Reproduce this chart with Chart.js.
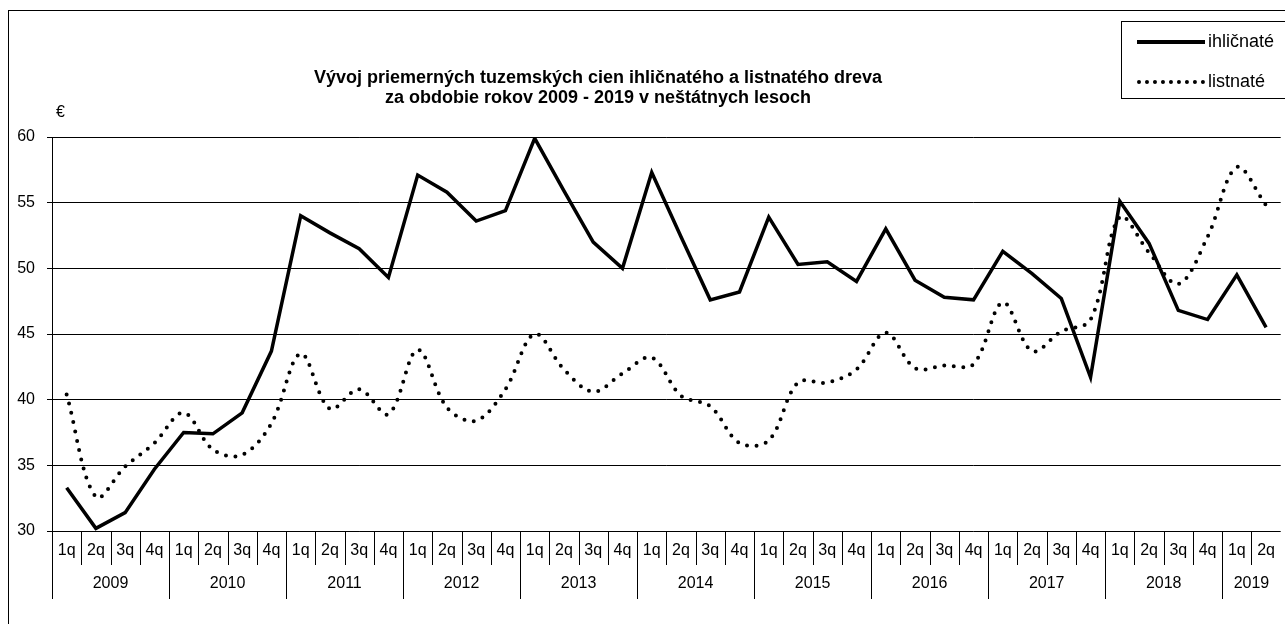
<!DOCTYPE html>
<html>
<head>
<meta charset="utf-8">
<script src="https://cdn.jsdelivr.net/npm/chart.js@4.4.1/dist/chart.umd.min.js"></script>
<style>
  html, body { margin:0; padding:0; background:#fff; }
  #wrap { position:relative; width:1285px; height:624px; overflow:hidden; font-family:"Liberation Sans", Arial, sans-serif; color:#000; }
  #c { position:absolute; left:0; top:0; }
  #frame { position:absolute; left:8px; top:10px; width:1400px; height:700px; border-left:1px solid #000; border-top:1px solid #000; }
  #title { position:absolute; left:198px; width:800px; top:67px; text-align:center; font-weight:bold; font-size:18px; line-height:20px; white-space:nowrap; }
  #euro { position:absolute; left:56px; top:103px; font-size:16px; }
  #legend { position:absolute; left:1121px; top:21px; width:200px; height:76px; border:1px solid #000; background:#fff; }
  .lg { position:absolute; left:15px; height:22px; font-size:18px; line-height:22px; white-space:nowrap; }
  .sw { display:inline-block; width:68px; vertical-align:middle; margin-right:3px; }
  .solid { border-top:4px solid #000; }
  .dot { border-top:4px dotted #000; }
</style>
</head>
<body>
<div id="wrap">
  <canvas id="c" width="1285" height="624"></canvas>
  <div id="frame"></div>
  <div id="title">Vývoj priemerných tuzemských cien ihličnatého a listnatého dreva<br>za obdobie rokov 2009 - 2019 v neštátnych lesoch</div>
  <div id="euro">€</div>
  <div id="legend">
    <div class="lg" style="top:8px"><span class="sw solid"></span>ihličnaté</div>
    <div class="lg" style="top:48px"><span class="sw dot"></span>listnaté</div>
  </div>
</div>
<script>
const years = ['2009','2010','2011','2012','2013','2014','2015','2016','2017','2018','2019'];
const quartersPerYear = [4,4,4,4,4,4,4,4,4,4,2];
const quarterNames = ['1q','2q','3q','4q'];
const yTicks = [30,35,40,45,50,55,60];

const ihlicnate = [33.3, 30.2, 31.4, 34.7, 37.5, 37.4, 39.0, 43.7, 54.0, 52.7, 51.5, 49.3,
  57.1, 55.8, 53.6, 54.4, 59.9, 55.9, 52.0, 50.0, 57.3, 52.4, 47.6, 48.2, 53.9, 50.3, 50.5,
  49.0, 53.0, 49.1, 47.8, 47.6, 51.3, 49.6, 47.7, 41.7, 55.1, 51.9, 46.8, 46.1, 49.5, 45.5];
const listnate = [40.4, 32.6, 34.9, 36.7, 39.0, 36.2, 35.8, 38.2, 43.5, 39.3, 40.8, 38.9,
  43.8, 39.4, 38.4, 40.8, 45.0, 42.3, 40.6, 42.0, 43.2, 40.3, 39.5, 36.7, 36.9, 41.3, 41.3,
  42.3, 45.1, 42.4, 42.6, 42.7, 47.4, 43.7, 45.2, 46.1, 53.9, 51.2, 48.8, 52.4, 57.7, 54.8];

const labels = [];
const yearStart = [];
years.forEach((y, k) => {
  yearStart.push(labels.length);
  for (let q = 0; q < quartersPerYear[k]; q++) labels.push(quarterNames[q]);
});

const FONT = '"Liberation Sans", Arial, sans-serif';

const groupPlugin = {
  id: 'groups',
  afterDraw(chart) {
    const xs = chart.scales.x;
    const ctx = chart.ctx;
    const n = labels.length;
    const bottom = chart.chartArea.bottom;
    const bnd = i => {
      if (i === 0) return xs.left;
      if (i === n) return xs.right;
      return (xs.getPixelForValue(i - 1) + xs.getPixelForValue(i)) / 2;
    };
    ctx.save();
    ctx.strokeStyle = '#000';
    ctx.lineWidth = 1;
    for (let i = 0; i < n; i++) {
      const isYear = yearStart.includes(i);
      const x = Math.round(bnd(i)) + 0.5;
      ctx.beginPath();
      ctx.moveTo(x, bottom);
      ctx.lineTo(x, bottom + (isYear ? 68 : 34));
      ctx.stroke();
    }
    ctx.fillStyle = '#000';
    ctx.font = '16px ' + FONT;
    ctx.textAlign = 'center';
    ctx.textBaseline = 'middle';
    years.forEach((y, k) => {
      const a = bnd(yearStart[k]);
      const b = bnd(yearStart[k] + quartersPerYear[k]);
      ctx.fillText(y, (a + b) / 2, bottom + 53);
    });
    ctx.restore();
  }
};

new Chart(document.getElementById('c'), {
  type: 'line',
  data: {
    labels: labels,
    datasets: [
      {
        label: 'ihličnaté',
        data: ihlicnate,
        borderColor: '#000',
        borderWidth: 3.5,
        pointRadius: 0,
        tension: 0,
        borderJoinStyle: 'miter'
      },
      {
        label: 'listnaté',
        data: listnate,
        borderColor: '#000',
        borderWidth: 4,
        borderDash: [0, 9.5],
        borderCapStyle: 'round',
        pointRadius: 0,
        cubicInterpolationMode: 'default',
        tension: 0.35
      }
    ]
  },
  options: {
    responsive: false,
    animation: false,
    devicePixelRatio: 1,
    layout: { padding: { top: 137, right: 1, left: 0, bottom: 0 } },
    plugins: { legend: { display: false }, title: { display: false }, tooltip: { enabled: false } },
    scales: {
      x: {
        type: 'category',
        offset: true,
        grid: { display: false, drawTicks: false },
        border: { display: false },
        ticks: { color: '#000', font: { family: FONT, size: 16 }, padding: 10, autoSkip: false, maxRotation: 0 },
        afterFit(s) { s.height = 93; }
      },
      y: {
        min: 30, max: 60,
        afterBuildTicks(s) { s.ticks = yTicks.map(v => ({ value: v })); },
        grid: { color: '#000', lineWidth: 1, tickLength: 5, drawTicks: true },
        border: { display: true, color: '#000', width: 1 },
        ticks: { color: '#000', font: { family: FONT, size: 16 }, padding: 12 },
        afterFit(s) { s.width = 52; }
      }
    }
  },
  plugins: [groupPlugin]
});
</script>
</body>
</html>
